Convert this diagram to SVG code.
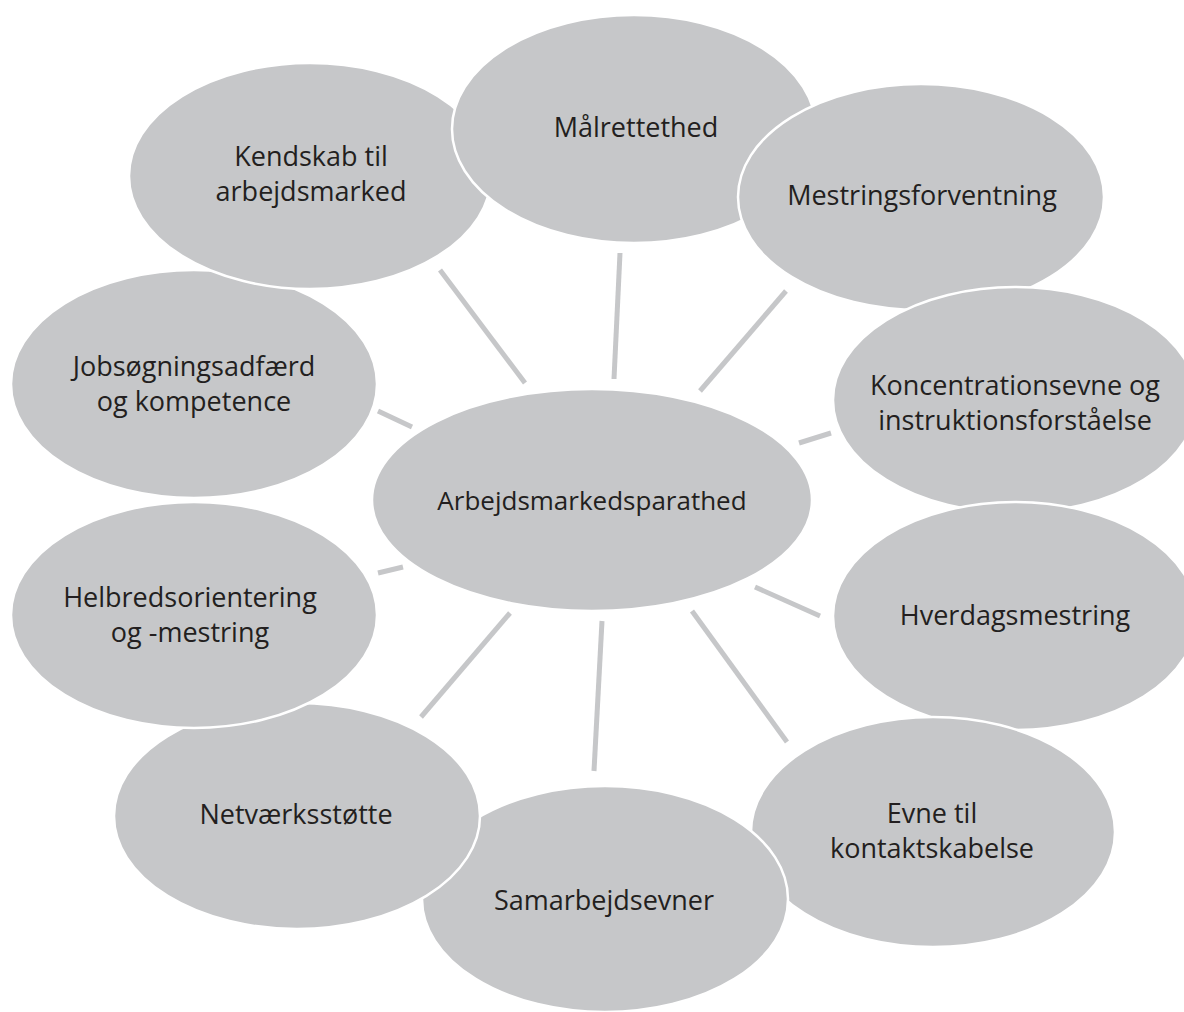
<svg xmlns="http://www.w3.org/2000/svg" width="1184" height="1012" viewBox="0 0 1184 1012">
<style>
.n{fill:#c6c7c9;stroke:#ffffff;stroke-width:2.5}
.t{font-family:"Open Sans","Liberation Sans",sans-serif;font-size:27px;fill:#231f20;text-anchor:middle}
.c{stroke:#c6c7c9;stroke-width:5;stroke-linecap:butt;fill:none}
</style>
<rect width="1184" height="1012" fill="#ffffff"/>
<g id="connectors">
<line class="c" x1="440" y1="270" x2="525" y2="383"/>
<line class="c" x1="620" y1="253" x2="614" y2="379"/>
<line class="c" x1="786" y1="291" x2="700" y2="391"/>
<line class="c" x1="831" y1="433" x2="799" y2="443"/>
<line class="c" x1="378" y1="411" x2="412" y2="427"/>
<line class="c" x1="378" y1="573" x2="403" y2="567"/>
<line class="c" x1="755" y1="587" x2="820" y2="616"/>
<line class="c" x1="510" y1="613" x2="421" y2="717"/>
<line class="c" x1="602" y1="621" x2="594" y2="771"/>
<line class="c" x1="692" y1="611" x2="787" y2="742"/>
</g>
<g id="jobsogning">
<ellipse class="n" cx="194" cy="384" rx="183" ry="114"/>
<text class="t" x="194" y="376">Jobsøgningsadfærd</text>
<text class="t" x="194" y="411">og kompetence</text>
</g>
<g id="kendskab">
<ellipse class="n" cx="310" cy="176" rx="181" ry="113"/>
<text class="t" x="311" y="166">Kendskab til</text>
<text class="t" x="311" y="201">arbejdsmarked</text>
</g>
<g id="malrettethed">
<ellipse class="n" cx="634" cy="129" rx="182" ry="114"/>
<text class="t" x="636" y="137">Målrettethed</text>
</g>
<g id="mestringsforventning">
<ellipse class="n" cx="921" cy="197" rx="183" ry="113"/>
<text class="t" x="922" y="205">Mestringsforventning</text>
</g>
<g id="koncentration">
<ellipse class="n" cx="1015" cy="400" rx="182" ry="113"/>
<text class="t" x="1015" y="395">Koncentrationsevne og</text>
<text class="t" x="1015" y="430">instruktionsforståelse</text>
</g>
<g id="hverdagsmestring">
<ellipse class="n" cx="1015" cy="616" rx="182" ry="114"/>
<text class="t" x="1015" y="625">Hverdagsmestring</text>
</g>
<g id="evne">
<ellipse class="n" cx="933" cy="832" rx="182" ry="115"/>
<text class="t" x="932" y="823">Evne til</text>
<text class="t" x="932" y="858">kontaktskabelse</text>
</g>
<g id="samarbejdsevner">
<ellipse class="n" cx="605" cy="899" rx="183" ry="113"/>
<text class="t" x="604" y="910">Samarbejdsevner</text>
</g>
<g id="netvaerksstotte">
<ellipse class="n" cx="297" cy="816" rx="183" ry="113"/>
<text class="t" x="296" y="824">Netværksstøtte</text>
</g>
<g id="helbred">
<ellipse class="n" cx="194" cy="615" rx="183" ry="113"/>
<text class="t" x="190" y="607">Helbredsorientering</text>
<text class="t" x="190" y="642">og -mestring</text>
</g>
<g id="center">
<ellipse class="n" cx="592" cy="500" rx="220" ry="111"/>
<text class="t" x="592" y="510" style="font-size:26px">Arbejdsmarkedsparathed</text>
</g>
</svg>
